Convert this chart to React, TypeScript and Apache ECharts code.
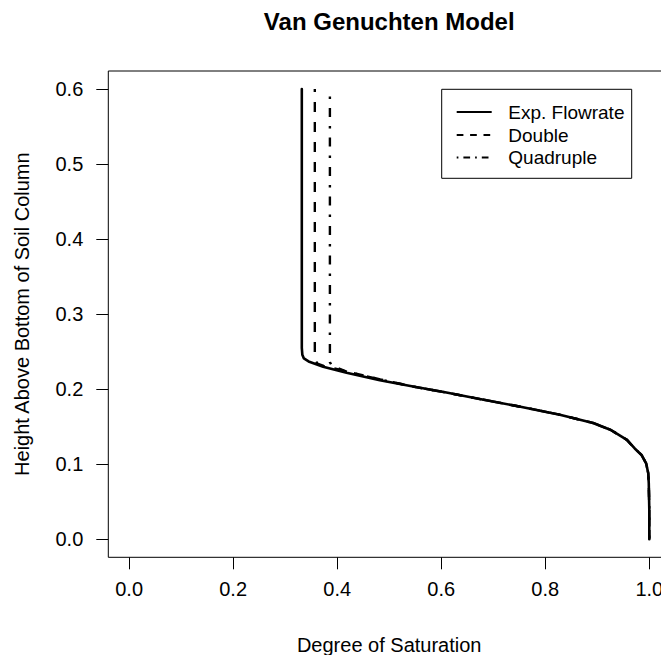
import React, { useEffect, useRef } from "react";
import * as echarts from "echarts";

// Degree of saturation vs. height for the three flow rates (read top of column -> bottom)
const expFlowrateSat = [0.332, 0.332, 0.333, 0.336, 0.345, 0.373, 0.418, 0.482, 0.546, 0.61, 0.674, 0.75, 0.828, 0.892, 0.925, 0.957, 0.972, 0.985, 0.994, 0.998, 0.999, 1.0, 1.0];
const expFlowrateHeight = [0.6, 0.255, 0.246, 0.241, 0.237, 0.23, 0.222, 0.212, 0.2035, 0.1955, 0.187, 0.177, 0.166, 0.155, 0.146, 0.1325, 0.121, 0.1124, 0.101, 0.088, 0.0747, 0.04, 0.0];

const doubleSat = [0.357, 0.357, 0.362, 0.374, 0.42, 0.483, 0.546, 0.61, 0.674, 0.75, 0.828, 0.892, 0.925, 0.957, 0.972, 0.985, 0.994, 0.998, 0.999, 1.0, 1.0];
const doubleHeight = [0.6, 0.24, 0.234, 0.231, 0.2235, 0.213, 0.2035, 0.1955, 0.187, 0.177, 0.166, 0.155, 0.146, 0.1325, 0.121, 0.1124, 0.101, 0.088, 0.0747, 0.04, 0.0];

const quadrupleSat = [0.386, 0.386, 0.39, 0.418, 0.485, 0.546, 0.61, 0.674, 0.75, 0.828, 0.892, 0.925, 0.957, 0.972, 0.985, 0.994, 0.998, 0.999, 1.0, 1.0];
const quadrupleHeight = [0.6, 0.236, 0.231, 0.2235, 0.2125, 0.2035, 0.1955, 0.187, 0.177, 0.166, 0.155, 0.146, 0.1325, 0.121, 0.1124, 0.101, 0.088, 0.0747, 0.04, 0.0];

const xTicks = [0, 0.2, 0.4, 0.6, 0.8, 1.0];
const yTicks = [0, 0.1, 0.2, 0.3, 0.4, 0.5, 0.6];

const legendNames = ["Exp. Flowrate", "Double", "Quadruple"];

const FONT = "'Liberation Sans', Arial, Helvetica, sans-serif";

const pairs = (xs: number[], ys: number[]) => xs.map((x, i) => [x, ys[i]]);

export default function App() {
  const ref = useRef<HTMLDivElement>(null);

  useEffect(() => {
    if (!ref.current) return;
    const chart = echarts.init(ref.current, undefined, { renderer: "svg" });

    const gridLeft = 108.3;
    const gridTop = 71;
    const gridW = 561.8;
    const gridH = 486.3;
    const cx = gridLeft + gridW / 2;
    const cy = gridTop + gridH / 2;

    const axisCommon = {
      type: "value" as const,
      axisLine: { show: false, onZero: false },
      splitLine: { show: false },
    };

    const legendX0 = 456.7;
    const legendX1 = 491.7;
    const legendRows = [112, 135, 157.5];
    const legendDash: (number[] | null)[] = [null, [6.7, 6.7], [1.7, 5, 6.7, 5]];

    chart.setOption({
      animation: false,
      backgroundColor: "#fff",
      grid: {
        left: gridLeft,
        top: gridTop,
        width: gridW,
        height: gridH,
        show: true,
        borderColor: "#000",
        borderWidth: 1,
        containLabel: false,
        outerBoundsMode: "none",
      },
      xAxis: {
        ...axisCommon,
        min: -0.04,
        max: 1.04,
        axisTick: { show: true, length: 12, lineStyle: { color: "#000", width: 1 }, customValues: xTicks },
        axisLabel: {
          customValues: xTicks,
          formatter: (v: number) => v.toFixed(1),
          margin: 22,
          color: "#000",
          fontSize: 20,
          fontFamily: FONT,
        },
      },
      yAxis: {
        ...axisCommon,
        min: -0.024,
        max: 0.624,
        axisTick: { show: true, length: 12, lineStyle: { color: "#000", width: 1 }, customValues: yTicks },
        axisLabel: {
          customValues: yTicks,
          formatter: (v: number) => v.toFixed(1),
          margin: 25,
          color: "#000",
          fontSize: 20,
          fontFamily: FONT,
        },
      },
      series: [
        {
          name: legendNames[0],
          type: "line",
          data: pairs(expFlowrateSat, expFlowrateHeight),
          showSymbol: false,
          lineStyle: { color: "#000", width: 2.6, cap: "round", join: "round" },
        },
        {
          name: legendNames[1],
          type: "line",
          data: pairs(doubleSat, doubleHeight),
          showSymbol: false,
          lineStyle: { color: "#000", width: 2.4, type: [10, 10], dashOffset: 6.6, cap: "butt" },
        },
        {
          name: legendNames[2],
          type: "line",
          data: pairs(quadrupleSat, quadrupleHeight),
          showSymbol: false,
          lineStyle: { color: "#000", width: 2.4, type: [2.5, 9, 9, 9], dashOffset: 22.4, cap: "butt" },
        },
      ],
      graphic: [
        {
          type: "text",
          x: cx,
          y: 21,
          style: {
            text: "Van Genuchten Model",
            font: `bold 24px ${FONT}`,
            fill: "#000",
            align: "center",
            verticalAlign: "middle",
          },
        },
        {
          type: "text",
          x: cx,
          y: 645,
          style: {
            text: "Degree of Saturation",
            font: `20px ${FONT}`,
            fill: "#000",
            align: "center",
            verticalAlign: "middle",
          },
        },
        {
          type: "text",
          x: 22,
          y: cy,
          rotation: Math.PI / 2,
          style: {
            text: "Height Above Bottom of Soil Column",
            font: `20px ${FONT}`,
            fill: "#000",
            align: "center",
            verticalAlign: "middle",
          },
        },
        {
          type: "rect",
          shape: { x: 441.7, y: 89.3, width: 190, height: 89 },
          style: { fill: "#fff", stroke: "#000", lineWidth: 1 },
          z: 100,
        },
        ...legendNames.flatMap((name, i) => [
          {
            type: "line",
            z: 101,
            shape: { x1: legendX0, y1: legendRows[i], x2: legendX1, y2: legendRows[i] },
            style: {
              stroke: "#000",
              lineWidth: 2,
              lineDash: legendDash[i] || undefined,
              lineCap: "butt",
            },
          },
          {
            type: "text",
            z: 101,
            x: 508.3,
            y: legendRows[i],
            style: {
              text: name,
              font: `19px ${FONT}`,
              fill: "#000",
              align: "left",
              verticalAlign: "middle",
            },
          },
        ]),
      ],
    });

    return () => chart.dispose();
  }, []);

  return (
    <div
      style={{
        position: "fixed",
        left: 0,
        top: 0,
        width: 661,
        height: 655,
        overflow: "hidden",
        background: "#fff",
      }}
    >
      <div ref={ref} style={{ width: 680, height: 655 }} />
    </div>
  );
}
